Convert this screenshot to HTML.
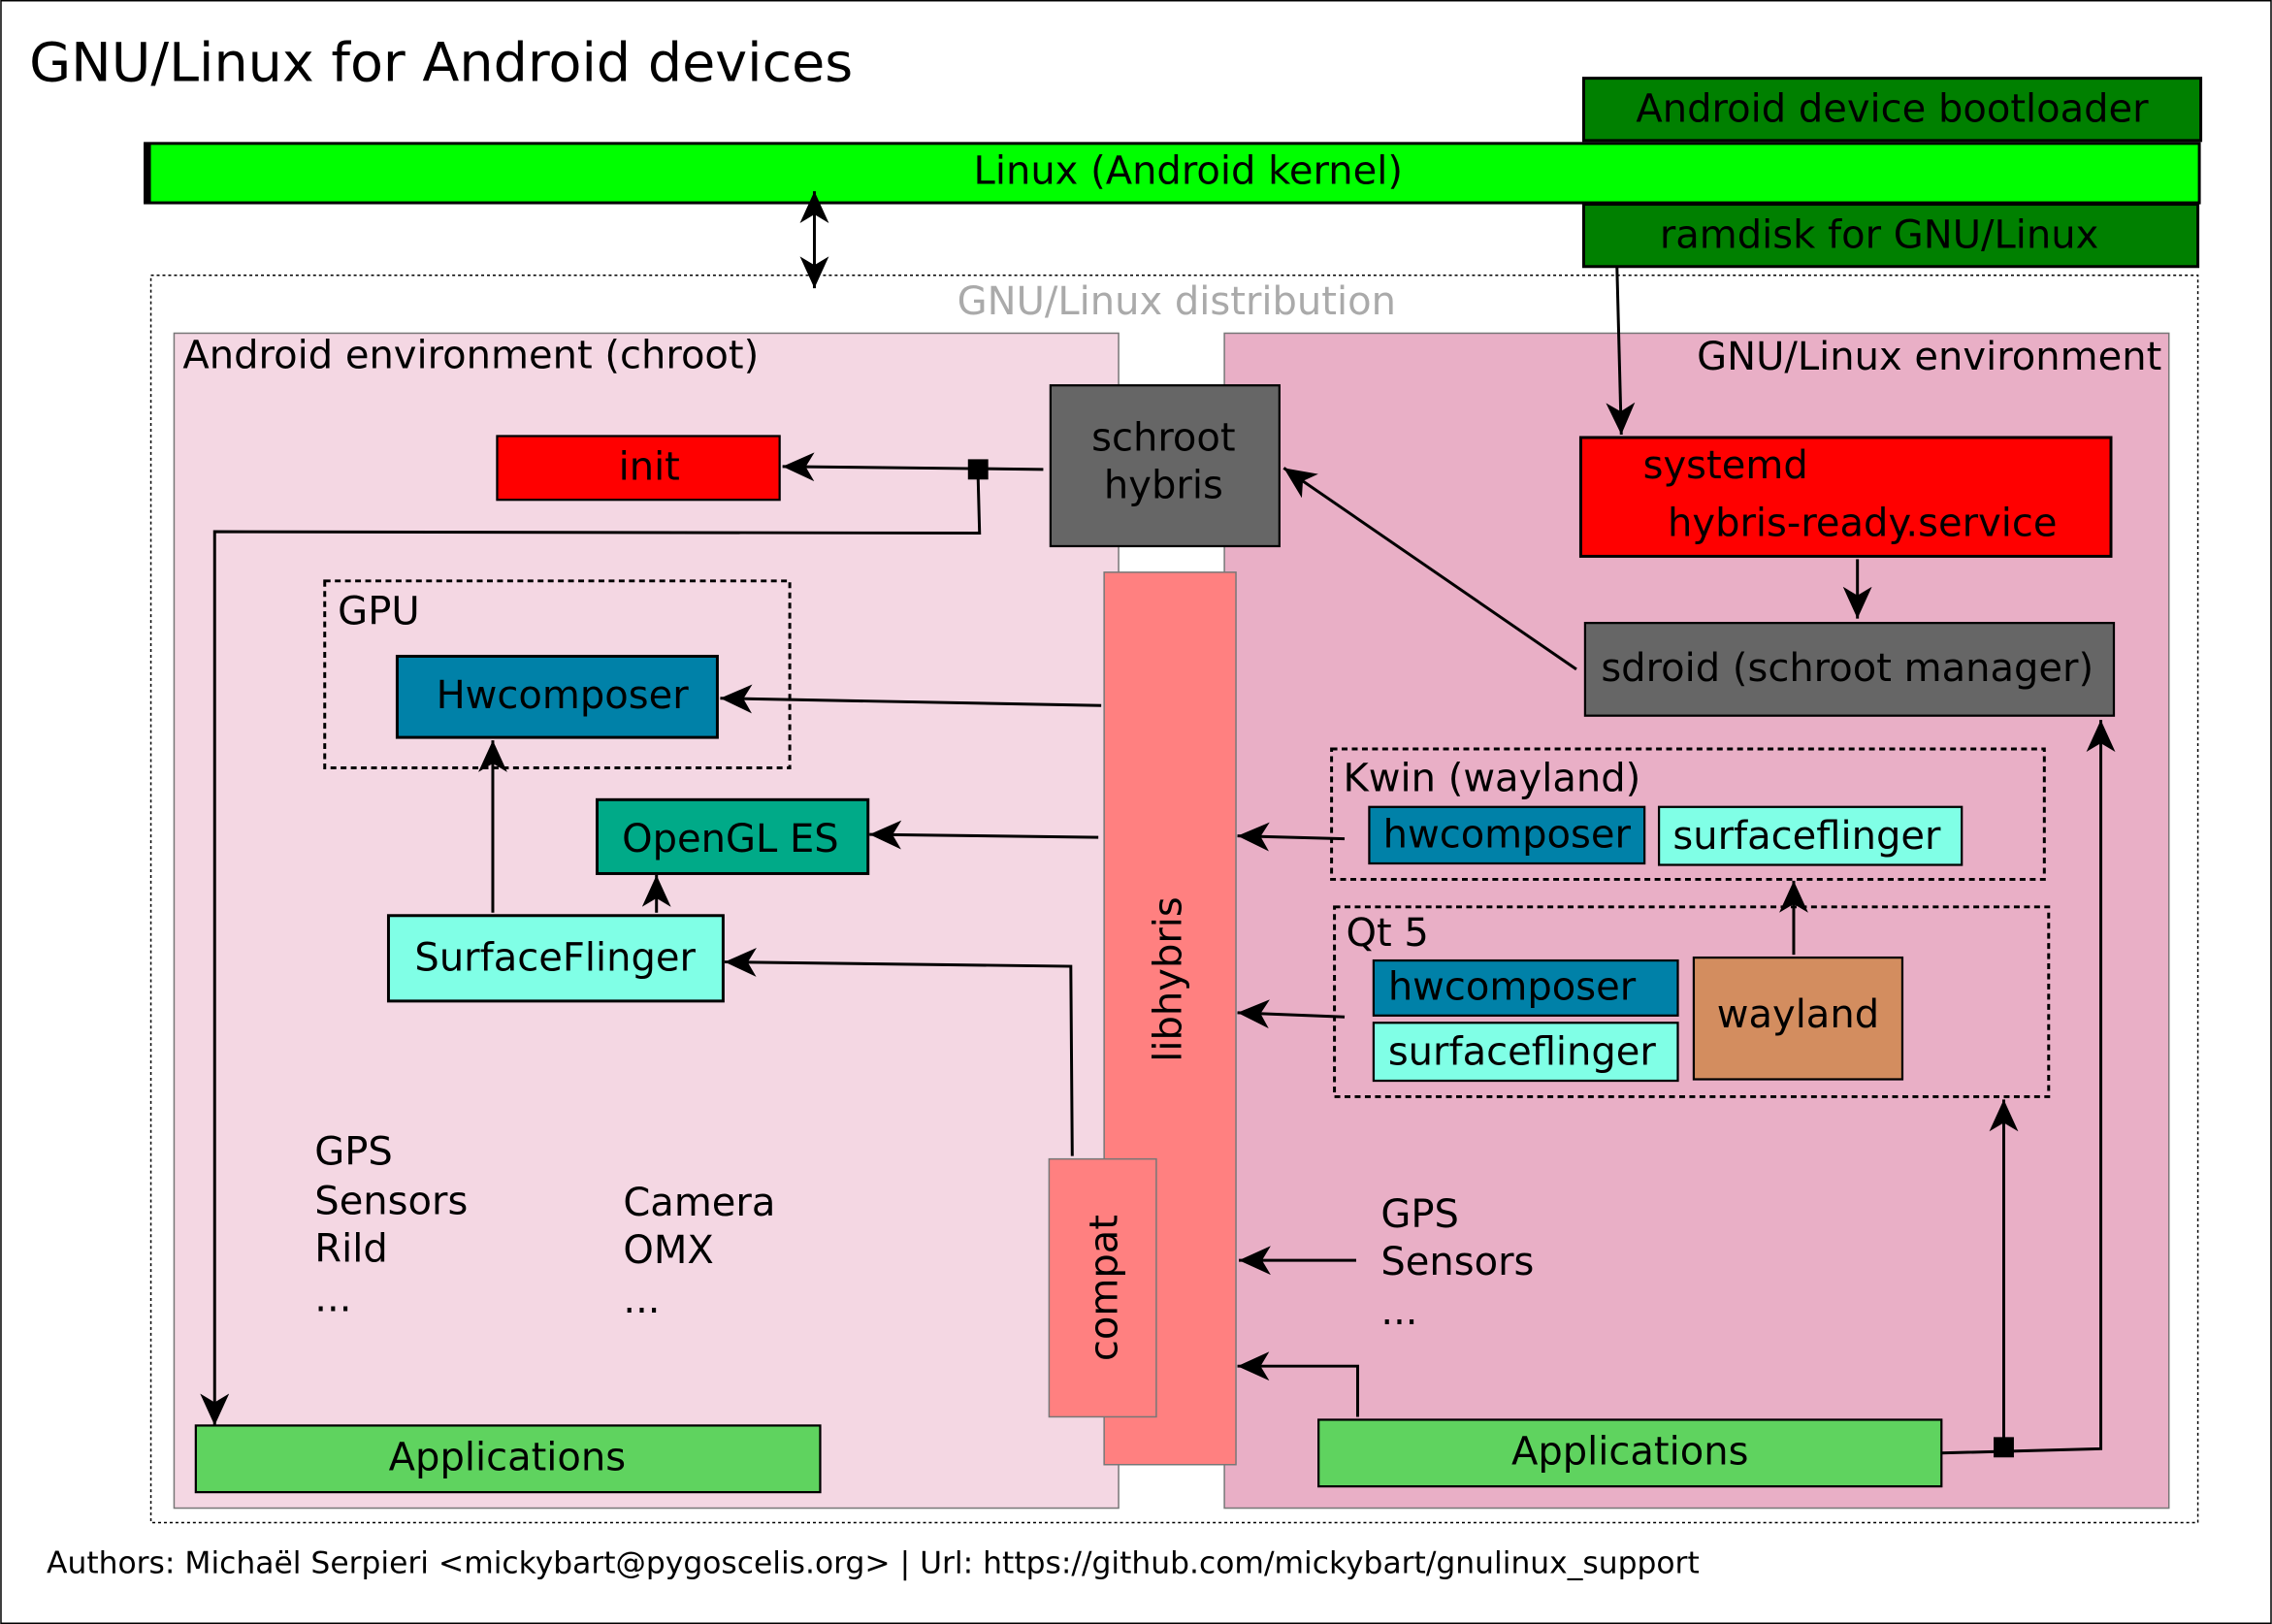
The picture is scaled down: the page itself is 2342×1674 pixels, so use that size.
<!DOCTYPE html>
<html><head><meta charset="utf-8"><style>
html,body{margin:0;padding:0;background:#fff}
svg{display:block}
text{font-family:"DejaVu Sans","Liberation Sans",sans-serif;font-size:26.8px;fill:#000}
</style></head><body>
<svg width="2342" height="1674" viewBox="0 0 1568 1121" xmlns="http://www.w3.org/2000/svg">
<defs>
<marker id="a" markerWidth="24" markerHeight="20" refX="22" refY="10" orient="auto" markerUnits="userSpaceOnUse">
<path d="M22,10 L0,0 L6,10 L0,20 Z" fill="#000"/>
</marker>
<marker id="s" markerWidth="24" markerHeight="20" refX="22" refY="10" orient="auto-start-reverse" markerUnits="userSpaceOnUse">
<path d="M22,10 L0,0 L6,10 L0,20 Z" fill="#000"/>
</marker>
</defs>
<rect x="0.5" y="0.5" width="1567" height="1120" fill="#fff" stroke="#000" stroke-width="1"/>
<text x="20" y="56" style="font-size:37.2px">GNU/Linux for Android devices</text>

<rect x="1093" y="54" width="426" height="43" fill="#008000" stroke="#000" stroke-width="2"/>
<text x="1306" y="84" text-anchor="middle">Android device bootloader</text>
<rect x="100" y="99" width="1418" height="41" fill="#00ff00" stroke="#000" stroke-width="2"/>
<rect x="99" y="99" width="5" height="41" fill="#000"/>
<text x="820" y="127" text-anchor="middle">Linux (Android kernel)</text>
<rect x="1093" y="141" width="424" height="43" fill="#008000" stroke="#000" stroke-width="2"/>
<text x="1297" y="171" text-anchor="middle">ramdisk for GNU/Linux</text>

<line x1="562" y1="132" x2="562" y2="199" stroke="#000" stroke-width="2" marker-start="url(#s)" marker-end="url(#a)"/>

<rect x="104" y="190" width="1413" height="861" fill="none" stroke="#000" stroke-width="1" stroke-dasharray="2,2"/>
<text x="812" y="217" text-anchor="middle" style="fill:#aaa">GNU/Linux distribution</text>

<rect x="120" y="230" width="652" height="811" fill="#f4d7e3" stroke="#777" stroke-width="1"/>
<text x="126" y="254">Android environment (chroot)</text>
<rect x="845" y="230" width="652" height="811" fill="#e9afc6" stroke="#777" stroke-width="1"/>
<text x="1492" y="255" text-anchor="end">GNU/Linux environment</text>

<rect x="725" y="266" width="158" height="111" fill="#666" stroke="#000" stroke-width="1.5"/>
<text x="803" y="311" text-anchor="middle">schroot</text>
<text x="803" y="344" text-anchor="middle">hybris</text>

<rect x="343" y="301" width="195" height="44" fill="#ff0000" stroke="#000" stroke-width="1.5"/>
<text x="448" y="331" text-anchor="middle">init</text>
<line x1="720" y1="324" x2="540" y2="322" stroke="#000" stroke-width="2" marker-end="url(#a)"/>
<rect x="668" y="317" width="14" height="14" fill="#000"/>
<polyline points="675,330 676,368 148,367 148,984" fill="none" stroke="#000" stroke-width="2" marker-end="url(#a)"/>

<rect x="1091" y="302" width="366" height="82" fill="#ff0000" stroke="#000" stroke-width="2"/>
<text x="1134" y="330">systemd</text>
<text x="1151" y="370">hybris-ready.service</text>
<line x1="1116" y1="184" x2="1119" y2="300" stroke="#000" stroke-width="2" marker-end="url(#a)"/>
<line x1="1282" y1="386" x2="1282" y2="427" stroke="#000" stroke-width="2" marker-end="url(#a)"/>

<rect x="1094" y="430" width="365" height="64" fill="#666" stroke="#000" stroke-width="1.5"/>
<text x="1275" y="470" text-anchor="middle">sdroid (schroot manager)</text>
<line x1="1088" y1="462" x2="886" y2="323" stroke="#000" stroke-width="2" marker-end="url(#a)"/>

<rect x="762" y="395" width="91" height="616" fill="#ff8080" stroke="#777" stroke-width="1"/>
<text transform="translate(815,676) rotate(-90)" text-anchor="middle">libhybris</text>
<rect x="724" y="800" width="74" height="178" fill="#ff8080" stroke="#777" stroke-width="1"/>
<text transform="translate(771,889) rotate(-90)" text-anchor="middle">compat</text>

<rect x="224" y="401" width="321" height="129" fill="none" stroke="#000" stroke-width="2" stroke-dasharray="4,3"/>
<text x="233" y="431">GPU</text>
<rect x="274" y="453" width="221" height="56" fill="#0081a8" stroke="#000" stroke-width="2"/>
<text x="388" y="489" text-anchor="middle">Hwcomposer</text>
<line x1="760" y1="487" x2="497" y2="482" stroke="#000" stroke-width="2" marker-end="url(#a)"/>

<rect x="412" y="552" width="187" height="51" fill="#00aa88" stroke="#000" stroke-width="2"/>
<text x="504" y="588" text-anchor="middle">OpenGL ES</text>
<line x1="758" y1="578" x2="600" y2="576" stroke="#000" stroke-width="2" marker-end="url(#a)"/>

<rect x="268" y="632" width="231" height="59" fill="#80ffe6" stroke="#000" stroke-width="2"/>
<text x="383" y="670" text-anchor="middle">SurfaceFlinger</text>
<line x1="340" y1="630" x2="340" y2="511" stroke="#000" stroke-width="2" marker-end="url(#a)"/>
<line x1="453" y1="630" x2="453" y2="604" stroke="#000" stroke-width="2" marker-end="url(#a)"/>
<polyline points="740,798 739,667 500,664" fill="none" stroke="#000" stroke-width="2" marker-end="url(#a)"/>

<text x="217" y="804">GPS</text>
<text x="217" y="838">Sensors</text>
<text x="217" y="871">Rild</text>
<text x="217" y="905">...</text>
<text x="430" y="839">Camera</text>
<text x="430" y="872">OMX</text>
<text x="430" y="906">...</text>

<rect x="135" y="984" width="431" height="46" fill="#5fd35f" stroke="#000" stroke-width="1.5"/>
<text x="350" y="1015" text-anchor="middle">Applications</text>

<rect x="919" y="517" width="492" height="90" fill="none" stroke="#000" stroke-width="2" stroke-dasharray="4,3"/>
<text x="927" y="546">Kwin (wayland)</text>
<rect x="945" y="557" width="190" height="39" fill="#0081a8" stroke="#000" stroke-width="1.5"/>
<text x="1040" y="585" text-anchor="middle">hwcomposer</text>
<rect x="1145" y="557" width="209" height="40" fill="#80ffe6" stroke="#000" stroke-width="1.5"/>
<text x="1247" y="586" text-anchor="middle">surfaceflinger</text>
<line x1="928" y1="579" x2="854" y2="577" stroke="#000" stroke-width="2" marker-end="url(#a)"/>

<rect x="921" y="626" width="493" height="131" fill="none" stroke="#000" stroke-width="2" stroke-dasharray="4,3"/>
<text x="929" y="653">Qt 5</text>
<rect x="948" y="663" width="210" height="38" fill="#0081a8" stroke="#000" stroke-width="1.5"/>
<text x="958" y="690">hwcomposer</text>
<rect x="948" y="706" width="210" height="40" fill="#80ffe6" stroke="#000" stroke-width="1.5"/>
<text x="958" y="735">surfaceflinger</text>
<rect x="1169" y="661" width="144" height="84" fill="#d38d5f" stroke="#000" stroke-width="1.5"/>
<text x="1241" y="709" text-anchor="middle">wayland</text>
<line x1="1238" y1="659" x2="1238" y2="608" stroke="#000" stroke-width="2" marker-end="url(#a)"/>
<line x1="928" y1="702" x2="854" y2="699" stroke="#000" stroke-width="2" marker-end="url(#a)"/>

<text x="953" y="847">GPS</text>
<text x="953" y="880">Sensors</text>
<text x="953" y="914">...</text>
<line x1="936" y1="870" x2="855" y2="870" stroke="#000" stroke-width="2" marker-end="url(#a)"/>

<rect x="910" y="980" width="430" height="46" fill="#5fd35f" stroke="#000" stroke-width="1.5"/>
<text x="1125" y="1011" text-anchor="middle">Applications</text>
<polyline points="937,978 937,943 854,943" fill="none" stroke="#000" stroke-width="2" marker-end="url(#a)"/>
<polyline points="1340,1003 1450,1000 1450,497" fill="none" stroke="#000" stroke-width="2" marker-end="url(#a)"/>
<line x1="1383" y1="999" x2="1383" y2="759" stroke="#000" stroke-width="2" marker-end="url(#a)"/>
<rect x="1376" y="992" width="14" height="14" fill="#000"/>

<text x="32" y="1086" style="font-size:21px">Authors: Michaël Serpieri &lt;mickybart@pygoscelis.org&gt; | Url: https://github.com/mickybart/gnulinux_support</text>
</svg>
</body></html>
